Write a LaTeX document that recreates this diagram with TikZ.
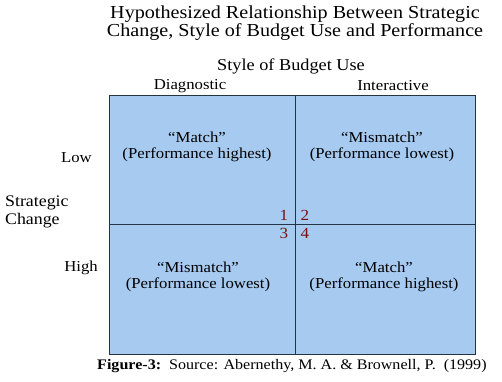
\documentclass[tikz,border=0pt]{standalone}
\usepackage{fontspec}
\setmainfont{Liberation Serif}
\newfontfamily\widefont[FakeStretch=1.1]{Liberation Serif}
\definecolor{cellblue}{HTML}{A6CAF0}
\definecolor{gridline}{HTML}{243447}
\definecolor{numred}{HTML}{7A1010}
\begin{document}
\begin{tikzpicture}[x=1pt,y=-1pt,
  lbl/.style={inner sep=0pt,font=\widefont\fontsize{15.2}{16}\selectfont},
  celltxt/.style={inner sep=0pt,align=center,font=\widefont\fontsize{15.2}{16.5}\selectfont},
  num/.style={inner sep=0pt,text=numred,font=\widefont\fontsize{15.5}{16}\selectfont}]
\useasboundingbox (0,0) rectangle (502,381);
\fill[white] (0,0) rectangle (502,381);
% quadrants
\node[draw=gridline,fill=cellblue,line width=0.8pt,minimum width=366pt,minimum height=259pt,inner sep=0pt,anchor=north west] (box) at (108.5,94.5) {};
\coordinate (vt) at (295.5,94.5);
\coordinate (vb) at (295.5,355);
\coordinate (hl) at (108.5,224);
\coordinate (hr) at (474.5,224);
\draw[gridline,line width=0.8pt] (vt) -- (vb);
\draw[gridline,line width=0.8pt] (hl) -- (hr);
% title
\node[inner sep=0pt,align=center,font=\widefont\fontsize{18.3}{16.8}\selectfont] (title) at (295,23.5) {Hypothesized Relationship Between Strategic\\Change, Style of Budget Use and Performance};
\node[inner sep=0pt,font=\widefont\fontsize{16.6}{16}\selectfont] (style) at (291,66) {Style of Budget Use};
\node[lbl] (diag) at (190,86) {Diagnostic};
\node[lbl] (inter) at (393,86) {Interactive};
% cells
\node[celltxt] (q1) at (197,147) {“Match”\\(Performance highest)};
\node[celltxt] (q2) at (382,147) {“Mismatch”\\(Performance lowest)};
\node[celltxt] (q3) at (198,277) {“Mismatch”\\(Performance lowest)};
\node[celltxt] (q4) at (384,277) {“Match”\\(Performance highest)};
\node[num] (n1) at (284,215) {1};
\node[num] (n2) at (305,215) {2};
\node[num] (n3) at (284,233) {3};
\node[num] (n4) at (305,233) {4};
% left labels
\node[lbl,anchor=east] (low) at (92,158) {Low};
\node[lbl,anchor=east] (high) at (98,268) {High};
\node[inner sep=0pt,anchor=west,align=left,font=\widefont\fontsize{16.2}{17.5}\selectfont] (sc) at (5,212) {Strategic\\Change};
% caption
\node[inner sep=0pt,anchor=west,font=\widefont\fontsize{14.6}{15}\selectfont] (cap) at (97,366) {\textbf{Figure-3:}~~Source: Abernethy, M. A. \& Brownell, P.~~(1999)};
\end{tikzpicture}
\end{document}
